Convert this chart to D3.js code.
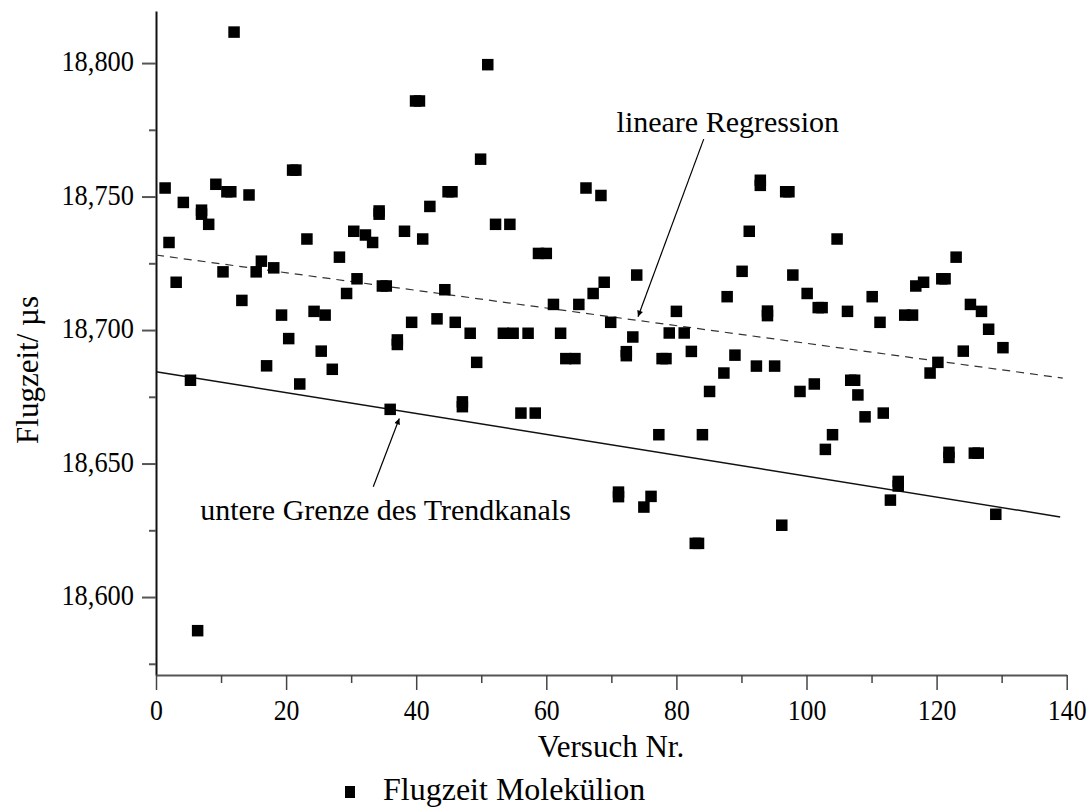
<!DOCTYPE html>
<html>
<head>
<meta charset="utf-8">
<script src="https://cdn.jsdelivr.net/npm/d3@7"></script>
<style>
  body { margin: 0; background: #fff; }
  svg text { font-family: "Liberation Serif", "Times New Roman", serif; fill: #000; }
</style>
</head>
<body>
<div id="chart"></div>
<script>
// Versuch Nr. (x) and Flugzeit in µs (y)
var trialNo = [1.4, 2.0, 3.1, 4.2, 5.3, 6.4, 7.0, 7.0, 8.1, 9.2, 10.3, 10.9, 11.5, 12.0, 13.2, 14.3, 15.4, 16.2, 17.0, 18.1,
  19.3, 20.4, 21.0, 21.5, 22.1, 23.2, 24.3, 25.4, 26.0, 27.1, 28.2, 29.3, 30.4, 30.9, 32.2, 33.3, 34.3, 34.3, 34.8, 35.4,
  36.0, 37.1, 37.1, 38.2, 39.3, 39.9, 40.5, 41.0, 42.1, 43.2, 44.4, 44.9, 45.5, 46.0, 47.1, 47.1, 48.3, 49.3, 49.9, 51.0,
  52.2, 53.4, 54.4, 54.9, 56.1, 57.2, 58.3, 58.8, 60.0, 61.1, 62.2, 63.0, 64.4, 65.0, 66.1, 67.2, 68.4, 68.9, 69.9, 71.1,
  71.1, 72.3, 72.3, 73.3, 73.9, 75.0, 76.1, 77.3, 77.8, 78.4, 78.9, 80.0, 81.2, 82.3, 82.9, 83.4, 84.0, 85.1, 87.3, 87.8,
  89.0, 90.1, 91.2, 92.3, 92.9, 92.9, 94.0, 94.0, 95.1, 96.2, 96.8, 97.3, 97.9, 99.0, 100.1, 101.2, 101.8, 102.4, 102.9, 104.0,
  104.7, 106.3, 106.8, 107.4, 107.9, 109.0, 110.1, 111.3, 111.8, 112.9, 114.1, 114.1, 115.1, 116.3, 116.8, 118.0, 119.0, 120.2, 120.8, 121.3,
  121.9, 121.9, 123.0, 124.1, 125.2, 125.8, 126.4, 126.9, 128.0, 129.1, 130.2];
var flightTime = [18.7532, 18.7328, 18.7179, 18.7478, 18.6812, 18.5874, 18.7449, 18.7434, 18.7396, 18.7546, 18.7218, 18.7518, 18.7518, 18.8116, 18.7111, 18.7506, 18.7218, 18.7258, 18.6866, 18.7233,
  18.7056, 18.6968, 18.7599, 18.7599, 18.6798, 18.7341, 18.7070, 18.6921, 18.7056, 18.6853, 18.7273, 18.7137, 18.7370, 18.7192, 18.7356, 18.7328, 18.7446, 18.7434, 18.7165, 18.7165,
  18.6703, 18.6963, 18.6946, 18.7370, 18.7029, 18.7858, 18.7858, 18.7341, 18.7463, 18.7042, 18.7151, 18.7518, 18.7518, 18.7029, 18.6731, 18.6713, 18.6988, 18.6879, 18.7640, 18.7994,
  18.7396, 18.6988, 18.7396, 18.6988, 18.6689, 18.6988, 18.6689, 18.7287, 18.7287, 18.7096, 18.6988, 18.6893, 18.6893, 18.7096, 18.7532, 18.7137, 18.7504, 18.7179, 18.7029, 18.6393,
  18.6376, 18.6919, 18.6904, 18.6974, 18.7206, 18.6337, 18.6377, 18.6608, 18.6893, 18.6893, 18.6989, 18.7070, 18.6989, 18.6920, 18.6201, 18.6201, 18.6608, 18.6770, 18.6839, 18.7125,
  18.6906, 18.7220, 18.7370, 18.6865, 18.7561, 18.7542, 18.7071, 18.7054, 18.6865, 18.6269, 18.7518, 18.7518, 18.7206, 18.6770, 18.7137, 18.6798, 18.7084, 18.7084, 18.6553, 18.6608,
  18.7341, 18.7070, 18.6812, 18.6812, 18.6757, 18.6675, 18.7125, 18.7029, 18.6689, 18.6363, 18.6433, 18.6416, 18.7056, 18.7056, 18.7165, 18.7179, 18.6839, 18.6879, 18.7192, 18.7192,
  18.6542, 18.6523, 18.7273, 18.6921, 18.7096, 18.6539, 18.6539, 18.7070, 18.7003, 18.6310, 18.6934];

// lines: linear regression (dashed) and lower bound of trend channel (solid)
var regX = [0, 139.4], regY = [18.7281, 18.6820];
var lowX = [0, 139.0], lowY = [18.6844, 18.6300];

var xTicks = [0, 20, 40, 60, 80, 100, 120, 140];
var xMinor = [10, 30, 50, 70, 90, 110, 130];
var yTicks = [18.60, 18.65, 18.70, 18.75, 18.80];
var yMinor = [18.575, 18.625, 18.675, 18.725, 18.775];

var xTitle = "Versuch Nr.", yTitle = "Flugzeit/ \u00b5s", legendLabel = "Flugzeit Molekülion";
var regLabel = "lineare Regression", lowLabel = "untere Grenze des Trendkanals";

var width = 1090, height = 811;
var svg = d3.select('#chart').append('svg')
    .attr('width', width).attr('height', height);

var x = d3.scaleLinear().domain([0, 140]).range([156, 1066.7]);
var y = d3.scaleLinear().domain([18.5708, 18.8195]).range([675, 11]);

var fmt = function (d) { return d3.format('.3f')(d).replace('.', ','); };

// y axis
var yAxis = svg.append('g').attr('transform', 'translate(156,0)')
    .call(d3.axisLeft(y).tickValues(yTicks).tickSize(14).tickSizeOuter(0).tickFormat(fmt));
yAxis.select('.domain').attr('stroke', '#111').attr('stroke-width', 2);
yAxis.selectAll('.tick line').attr('stroke', '#555').attr('stroke-width', 2);
// the original digits are a bit narrow: squeeze them sideways
yAxis.selectAll('.tick text').attr('x', -25).attr('dy', '0.25em')
    .attr('transform', 'scale(0.88,1)')
    .style('font-size', '30px');
svg.append('g').attr('transform', 'translate(156,0)')
    .call(d3.axisLeft(y).tickValues(yMinor).tickSize(7).tickSizeOuter(0).tickFormat(''))
    .call(function (g) { g.select('.domain').remove(); })
    .selectAll('.tick line').attr('stroke', '#555').attr('stroke-width', 2);

// x axis
var xAxis = svg.append('g').attr('transform', 'translate(0,675)')
    .call(d3.axisBottom(x).tickValues(xTicks).tickSize(15).tickSizeOuter(0));
xAxis.select('.domain').attr('stroke', '#555').attr('stroke-width', 2);
xAxis.selectAll('.tick line').attr('stroke', '#444').attr('stroke-width', 1.5);
xAxis.selectAll('.tick text').attr('y', 24).attr('dy', '0.71em')
    .attr('transform', 'scale(0.86,1)')
    .style('font-size', '30px');
svg.append('g').attr('transform', 'translate(0,675)')
    .call(d3.axisBottom(x).tickValues(xMinor).tickSize(8).tickSizeOuter(0).tickFormat(''))
    .call(function (g) { g.select('.domain').remove(); })
    .selectAll('.tick line').attr('stroke', '#444').attr('stroke-width', 1.5);

// axis titles
svg.append('text').attr('x', 611).attr('y', 757).attr('text-anchor', 'middle')
    .style('font-size', '31px').text(xTitle);
svg.append('text').attr('transform', 'translate(38,370) rotate(-90)').attr('text-anchor', 'middle')
    .style('font-size', '31px').text(yTitle);

// lines
var line = d3.line().x(function (d) { return x(d[0]); }).y(function (d) { return y(d[1]); });
svg.append('path').datum(d3.zip(regX, regY)).attr('d', line)
    .attr('fill', 'none').attr('stroke', '#333').attr('stroke-width', 1.2)
    .attr('stroke-dasharray', '8,6');
svg.append('path').datum(d3.zip(lowX, lowY)).attr('d', line)
    .attr('fill', 'none').attr('stroke', '#111').attr('stroke-width', 1.5);

// points
var s = 11.5;
svg.append('g').selectAll('rect')
    .data(d3.zip(trialNo, flightTime))
    .enter().append('rect')
    .attr('x', function (d) { return x(d[0]) - s / 2; })
    .attr('y', function (d) { return y(d[1]) - s / 2; })
    .attr('width', s).attr('height', s)
    .attr('fill', '#000');

// annotations with arrows
var defs = svg.append('defs');
defs.append('marker').attr('id', 'arrow').attr('viewBox', '0 0 10 10')
    .attr('refX', 10).attr('refY', 5).attr('markerWidth', 12).attr('markerHeight', 6)
    .attr('markerUnits', 'userSpaceOnUse').attr('orient', 'auto')
    .append('path').attr('d', 'M0,0 L10,5 L0,10 z').attr('fill', '#000');

var arrows = [
    { from: [84.2, 18.7715], to: [74.1, 18.7050] },
    { from: [33.4, 18.6413], to: [37.4, 18.6669] }
];
svg.append('g').selectAll('line').data(arrows).enter().append('line')
    .attr('x1', function (d) { return x(d.from[0]); })
    .attr('y1', function (d) { return y(d.from[1]); })
    .attr('x2', function (d) { return x(d.to[0]); })
    .attr('y2', function (d) { return y(d.to[1]); })
    .attr('stroke', '#000').attr('stroke-width', 1.2)
    .attr('marker-end', 'url(#arrow)');

svg.append('text').attr('x', x(70.8)).attr('y', y(18.7743))
    .style('font-size', '30px').text(regLabel);
svg.append('text').attr('x', x(6.8)).attr('y', y(18.6288))
    .style('font-size', '30px').text(lowLabel);

// legend
svg.append('rect').attr('x', 345).attr('y', 786).attr('width', 10).attr('height', 12).attr('fill', '#000');
svg.append('text').attr('x', 383).attr('y', 800)
    .style('font-size', '32px').text(legendLabel);
</script>
</body>
</html>
